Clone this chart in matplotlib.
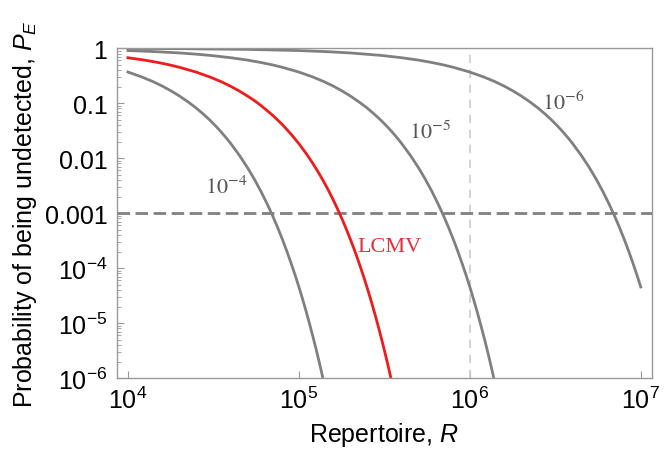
import matplotlib
matplotlib.use('Agg')
import matplotlib.pyplot as plt
from matplotlib.ticker import FixedLocator, FixedFormatter, NullLocator, LogLocator, NullFormatter

plt.rcParams['font.family'] = ['Liberation Sans', 'DejaVu Sans']
plt.rcParams['mathtext.fontset'] = 'custom'
plt.rcParams['mathtext.rm'] = 'Liberation Sans'
plt.rcParams['mathtext.it'] = 'Liberation Sans:italic'

GRAY = '#808080'
RED = '#ee1c1c'

# curves: repertoire R vs P_E
r_1e4 = [1e4, 1.2e4, 1.4e4, 1.6e4, 1.8e4, 2e4, 2.25e4, 2.5e4, 2.75e4, 3e4, 3.25e4,
         3.5e4, 3.75e4, 4e4, 4.5e4, 5e4, 5.5e4, 6e4, 6.5e4, 7e4, 7.5e4, 8e4, 8.5e4,
         9e4, 9.5e4, 1e5, 1.05e5, 1.1e5, 1.15e5, 1.2e5, 1.25e5, 1.3e5, 1.35e5, 1.4e5]
pe_1e4 = [0.368, 0.301, 0.247, 0.202, 0.165, 0.135, 0.105, 0.0821, 0.0639, 0.0498,
          0.0388, 0.0302, 0.0235, 0.0183, 0.0111, 6.74e-3, 4.09e-3, 2.48e-3, 1.50e-3,
          9.12e-4, 5.53e-4, 3.35e-4, 2.03e-4, 1.23e-4, 7.49e-5, 4.54e-5, 2.75e-5,
          1.67e-5, 1.01e-5, 6.14e-6, 3.73e-6, 2.26e-6, 1.37e-6, 8.3e-7]

r_lcmv = [1e4, 1.25e4, 1.5e4, 1.75e4, 2e4, 2.5e4, 3e4, 3.5e4, 4e4, 4.5e4, 5e4, 5.5e4,
          6e4, 7e4, 8e4, 9e4, 1e5, 1.1e5, 1.2e5, 1.3e5, 1.4e5, 1.5e5, 1.6e5, 1.7e5,
          1.8e5, 1.9e5, 2e5, 2.1e5, 2.2e5, 2.3e5, 2.4e5, 2.5e5, 2.6e5, 2.7e5, 2.8e5,
          2.9e5, 3e5, 3.1e5, 3.2e5, 3.3e5, 3.4e5, 3.5e5]
pe_lcmv = [0.670, 0.607, 0.549, 0.497, 0.449, 0.368, 0.301, 0.247, 0.202, 0.165,
           0.135, 0.111, 0.0907, 0.0608, 0.0408, 0.0273, 0.0183, 0.0123, 8.23e-3,
           5.52e-3, 3.70e-3, 2.48e-3, 1.66e-3, 1.11e-3, 7.47e-4, 5.00e-4, 3.35e-4,
           2.25e-4, 1.51e-4, 1.01e-4, 6.77e-5, 4.54e-5, 3.04e-5, 2.04e-5, 1.37e-5,
           9.17e-6, 6.14e-6, 4.12e-6, 2.76e-6, 1.85e-6, 1.24e-6, 8.3e-7]

r_1e5 = [1e4, 1.2e4, 1.5e4, 2e4, 2.5e4, 3e4, 4e4, 5e4, 6e4, 7e4, 8e4, 1e5, 1.2e5,
         1.4e5, 1.6e5, 1.8e5, 2e5, 2.25e5, 2.5e5, 2.75e5, 3e5, 3.25e5, 3.5e5, 3.75e5,
         4e5, 4.5e5, 5e5, 5.5e5, 6e5, 6.5e5, 7e5, 7.5e5, 8e5, 8.5e5, 9e5, 9.5e5, 1e6,
         1.05e6, 1.1e6, 1.15e6, 1.2e6, 1.25e6, 1.3e6, 1.35e6, 1.4e6]
pe_1e5 = [0.905, 0.887, 0.861, 0.819, 0.779, 0.741, 0.670, 0.607, 0.549, 0.497, 0.449,
          0.368, 0.301, 0.247, 0.202, 0.165, 0.135, 0.105, 0.0821, 0.0639, 0.0498,
          0.0388, 0.0302, 0.0235, 0.0183, 0.0111, 6.74e-3, 4.09e-3, 2.48e-3, 1.50e-3,
          9.12e-4, 5.53e-4, 3.35e-4, 2.03e-4, 1.23e-4, 7.49e-5, 4.54e-5, 2.75e-5,
          1.67e-5, 1.01e-5, 6.14e-6, 3.73e-6, 2.26e-6, 1.37e-6, 8.3e-7]

r_1e6 = [1e4, 2e4, 5e4, 1e5, 1.5e5, 2e5, 3e5, 4e5, 5e5, 6e5, 7e5, 8e5, 1e6, 1.2e6,
         1.4e6, 1.6e6, 1.8e6, 2e6, 2.25e6, 2.5e6, 2.75e6, 3e6, 3.25e6, 3.5e6, 3.75e6,
         4e6, 4.5e6, 5e6, 5.5e6, 6e6, 6.5e6, 7e6, 7.5e6, 8e6, 8.5e6, 9e6, 9.5e6, 1e7]
pe_1e6 = [0.990, 0.980, 0.951, 0.905, 0.861, 0.819, 0.741, 0.670, 0.607, 0.549, 0.497,
          0.449, 0.368, 0.301, 0.247, 0.202, 0.165, 0.135, 0.105, 0.0821, 0.0639,
          0.0498, 0.0388, 0.0302, 0.0235, 0.0183, 0.0111, 6.74e-3, 4.09e-3, 2.48e-3,
          1.50e-3, 9.12e-4, 5.53e-4, 3.35e-4, 2.03e-4, 1.23e-4, 7.49e-5, 4.54e-5]

threshold = 0.001
r_mark = 1e6

y_ticks = [1e-6, 1e-5, 1e-4, 1e-3, 1e-2, 1e-1, 1]
y_labels = ['$10^{-6}$', '$10^{-5}$', '$10^{-4}$', '0.001', '0.01', '0.1', '1']
x_ticks = [1e4, 1e5, 1e6, 1e7]
x_labels = ['$10^{4}$', '$10^{5}$', '$10^{6}$', '$10^{7}$']

fig = plt.figure(figsize=(6.65, 4.64), dpi=100)
ax = fig.add_axes([0.176, 0.183, 0.804, 0.711])

ax.set_xscale('log')
ax.set_yscale('log')

ax.axvline(r_mark, color='#cccccc', lw=1.2, ls=(0, (5, 4)))
ax.axhline(threshold, color=GRAY, lw=2, ls=(0, (4.5, 2)))

ax.plot(r_1e4, pe_1e4, color=GRAY, lw=2)
ax.plot(r_1e5, pe_1e5, color=GRAY, lw=2)
ax.plot(r_1e6, pe_1e6, color=GRAY, lw=2)
ax.plot(r_lcmv, pe_lcmv, color=RED, lw=2)

lab = dict(fontsize=16, math_fontfamily='stix', fontfamily='Liberation Serif',
           ha='center', va='center')
ax.text(3.74e4, 3.0e-3, '$10^{-4}$', color='#555555', **lab)
ax.text(3.4e5, 2.5e-4, 'LCMV', color='#e8303a', **lab)
ax.text(5.83e5, 0.0297, '$10^{-5}$', color='#555555', **lab)
ax.text(3.5e6, 0.105, '$10^{-6}$', color='#555555', **lab)

ax.set_xlim(10 ** 3.936, 10 ** 7.064)
ax.set_ylim(1e-6, 1)

ax.xaxis.set_major_locator(FixedLocator(x_ticks))
ax.xaxis.set_major_formatter(FixedFormatter(x_labels))
ax.xaxis.set_minor_locator(NullLocator())
ax.yaxis.set_major_locator(FixedLocator(y_ticks))
ax.yaxis.set_major_formatter(FixedFormatter(y_labels))
ax.yaxis.set_minor_locator(LogLocator(base=10, subs=range(2, 10), numticks=20))
ax.yaxis.set_minor_formatter(NullFormatter())

ax.tick_params(which='both', direction='in', color='#999999')
ax.tick_params(which='major', length=5, labelsize=18)
ax.tick_params(axis='y', which='major', pad=7)
ax.tick_params(axis='x', which='major', pad=6)
ax.tick_params(which='minor', length=3)
for sp in ax.spines.values():
    sp.set_color('#999999')
    sp.set_linewidth(1)

ax.set_xlabel('Repertoire, $\\mathit{R}$', fontsize=18, labelpad=5)
ax.set_ylabel('Probability of being undetected, $P_E$', fontsize=18, labelpad=4)

fig.savefig('out.png', dpi=100)
